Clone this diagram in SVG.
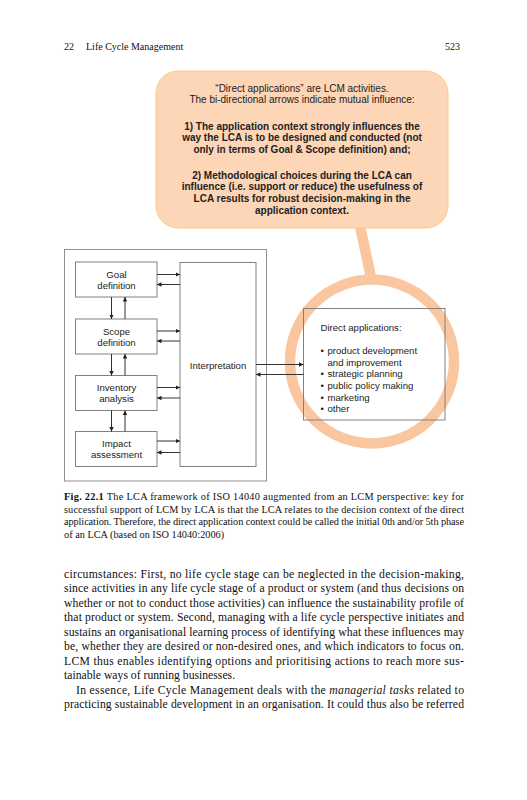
<svg xmlns="http://www.w3.org/2000/svg" width="527" height="800" viewBox="0 0 527 800">
<defs>
<marker id="ah" viewBox="0 0 6 6" refX="6" refY="3" markerWidth="4.5" markerHeight="4.5" orient="auto" markerUnits="userSpaceOnUse">
<path d="M0,0 L6,3 L0,6 z" fill="#222"/>
</marker>
</defs>
<style>
.serif{font-family:"Liberation Serif","Times New Roman",serif;fill:#111}
.hd{font-size:10px}
.cap{font-size:10.3px}
.body{font-size:11.7px}
.sans{font-family:"Liberation Sans",Arial,sans-serif;fill:#222}
.lbl{font-size:9.6px;text-anchor:middle}
.bub{font-size:10px;text-anchor:middle}
.bb{font-weight:bold}
.box{fill:none;stroke:#808080;stroke-width:1}
.frame{fill:none;stroke:#909090;stroke-width:1}
.arr{stroke:#333;stroke-width:1;fill:none;marker-end:url(#ah)}
.hl{fill:none;stroke:#FAC6A0;stroke-width:10.5}
</style>
<rect width="527" height="800" fill="#fff"/>

<g id="header">
<text class="serif hd" x="64" y="50">22</text>
<text class="serif hd" x="86" y="50">Life Cycle Management</text>
<text class="serif hd" x="460" y="50" text-anchor="end">523</text>
</g>

<g id="callout">
<line class="hl" x1="360" y1="226" x2="372" y2="282" stroke="#FBD0B0"/>
<circle class="hl" cx="372" cy="361.5" r="82"/>
<rect x="156" y="71" width="292" height="157" rx="22" fill="#FDD5B7" stroke="#F7CE86" stroke-width="1"/>
<text class="sans bub" x="302" y="91.5">“Direct applications” are LCM activities.</text>
<text class="sans bub" x="302" y="103">The bi-directional arrows indicate mutual influence:</text>
<text class="sans bub bb" x="302" y="129.5">1) The application context strongly influences the</text>
<text class="sans bub bb" x="302" y="141">way the LCA is to be designed and conducted (not</text>
<text class="sans bub bb" x="302" y="152.5">only in terms of Goal &amp; Scope definition) and;</text>
<text class="sans bub bb" x="302" y="178.5">2) Methodological choices during the LCA can</text>
<text class="sans bub bb" x="302" y="190">influence (i.e. support or reduce) the usefulness of</text>
<text class="sans bub bb" x="302" y="201.5">LCA results for robust decision-making in the</text>
<text class="sans bub bb" x="302" y="213.5">application context.</text>
</g>

<g id="lca-frame">
<rect class="frame" x="64.5" y="249.5" width="202" height="231.5"/>
</g>

<g id="goal">
<rect class="box" x="75.5" y="262" width="81.5" height="35"/>
<text class="sans lbl" x="116.5" y="277.5">Goal</text>
<text class="sans lbl" x="116.5" y="289">definition</text>
</g>
<g id="scope">
<rect class="box" x="75.5" y="319" width="81.5" height="35"/>
<text class="sans lbl" x="116.5" y="334.5">Scope</text>
<text class="sans lbl" x="116.5" y="346">definition</text>
</g>
<g id="inventory">
<rect class="box" x="75.5" y="375.5" width="81.5" height="35"/>
<text class="sans lbl" x="116.5" y="390.5">Inventory</text>
<text class="sans lbl" x="116.5" y="402">analysis</text>
</g>
<g id="impact">
<rect class="box" x="75.5" y="431.5" width="81.5" height="35"/>
<text class="sans lbl" x="116.5" y="446.5">Impact</text>
<text class="sans lbl" x="116.5" y="458">assessment</text>
</g>
<g id="interpretation">
<rect class="box" x="180" y="262.5" width="76" height="204"/>
<text class="sans lbl" x="218" y="368.5">Interpretation</text>
</g>
<g id="direct-applications">
<rect class="box" x="303.5" y="308.5" width="141.5" height="111.5"/>
<text class="sans" font-size="9.6" x="320.5" y="330.5">Direct applications:</text>
<text class="sans" font-size="9.6" x="320.5" y="354">•</text>
<text class="sans" font-size="9.6" x="327.5" y="354">product development</text>
<text class="sans" font-size="9.6" x="327.5" y="365.7">and improvement</text>
<text class="sans" font-size="9.6" x="320.5" y="377.4">•</text>
<text class="sans" font-size="9.6" x="327.5" y="377.4">strategic planning</text>
<text class="sans" font-size="9.6" x="320.5" y="389.2">•</text>
<text class="sans" font-size="9.6" x="327.5" y="389.2">public policy making</text>
<text class="sans" font-size="9.6" x="320.5" y="400.8">•</text>
<text class="sans" font-size="9.6" x="327.5" y="400.8">marketing</text>
<text class="sans" font-size="9.6" x="320.5" y="412.3">•</text>
<text class="sans" font-size="9.6" x="327.5" y="412.3">other</text>
</g>

<g id="connectors">
<line class="arr" x1="157" y1="274.5" x2="180" y2="274.5"/>
<line class="arr" x1="180" y1="284.5" x2="157" y2="284.5"/>
<line class="arr" x1="157" y1="331" x2="180" y2="331"/>
<line class="arr" x1="180" y1="341" x2="157" y2="341"/>
<line class="arr" x1="157" y1="387.5" x2="180" y2="387.5"/>
<line class="arr" x1="180" y1="398" x2="157" y2="398"/>
<line class="arr" x1="157" y1="441" x2="180" y2="441"/>
<line class="arr" x1="180" y1="452.5" x2="157" y2="452.5"/>
<line class="arr" x1="111.5" y1="297" x2="111.5" y2="319"/>
<line class="arr" x1="125" y1="319" x2="125" y2="297"/>
<line class="arr" x1="111.5" y1="354" x2="111.5" y2="375.5"/>
<line class="arr" x1="125" y1="375.5" x2="125" y2="354"/>
<line class="arr" x1="111.5" y1="410.5" x2="111.5" y2="431.5"/>
<line class="arr" x1="125" y1="431.5" x2="125" y2="410.5"/>
<line class="arr" x1="256" y1="364.5" x2="303.5" y2="364.5"/>
<line class="arr" x1="303.5" y1="374.5" x2="256" y2="374.5"/>
</g>

<g id="caption">
<text class="serif cap" x="64" y="500" textLength="400" lengthAdjust="spacing"><tspan font-weight="bold">Fig. 22.1</tspan>  The LCA framework of ISO 14040 augmented from an LCM perspective: key for</text>
<text class="serif cap" x="64" y="512.5" textLength="400" lengthAdjust="spacing">successful support of LCM by LCA is that the LCA relates to the decision context of the direct</text>
<text class="serif cap" x="64" y="525" textLength="400" lengthAdjust="spacing">application. Therefore, the direct application context could be called the initial 0th and/or 5th phase</text>
<text class="serif cap" x="64" y="537.5">of an LCA (based on ISO 14040:2006)</text>
</g>

<g id="body">
<text class="serif body" x="64" y="577.5" textLength="400" lengthAdjust="spacing">circumstances: First, no life cycle stage can be neglected in the decision-making,</text>
<text class="serif body" x="64" y="592" textLength="400" lengthAdjust="spacing">since activities in any life cycle stage of a product or system (and thus decisions on</text>
<text class="serif body" x="64" y="606.5" textLength="400" lengthAdjust="spacing">whether or not to conduct those activities) can influence the sustainability profile of</text>
<text class="serif body" x="64" y="621" textLength="400" lengthAdjust="spacing">that product or system. Second, managing with a life cycle perspective initiates and</text>
<text class="serif body" x="64" y="635.5" textLength="400" lengthAdjust="spacing">sustains an organisational learning process of identifying what these influences may</text>
<text class="serif body" x="64" y="650" textLength="400" lengthAdjust="spacing">be, whether they are desired or non-desired ones, and which indicators to focus on.</text>
<text class="serif body" x="64" y="664.5" textLength="400" lengthAdjust="spacing">LCM thus enables identifying options and prioritising actions to reach more sus-</text>
<text class="serif body" x="64" y="679">tainable ways of running businesses.</text>
<text class="serif body" x="76" y="693.5" textLength="388" lengthAdjust="spacing">In essence, Life Cycle Management deals with the <tspan font-style="italic">managerial tasks</tspan> related to</text>
<text class="serif body" x="64" y="708" textLength="400" lengthAdjust="spacing">practicing sustainable development in an organisation. It could thus also be referred</text>
</g>
</svg>
